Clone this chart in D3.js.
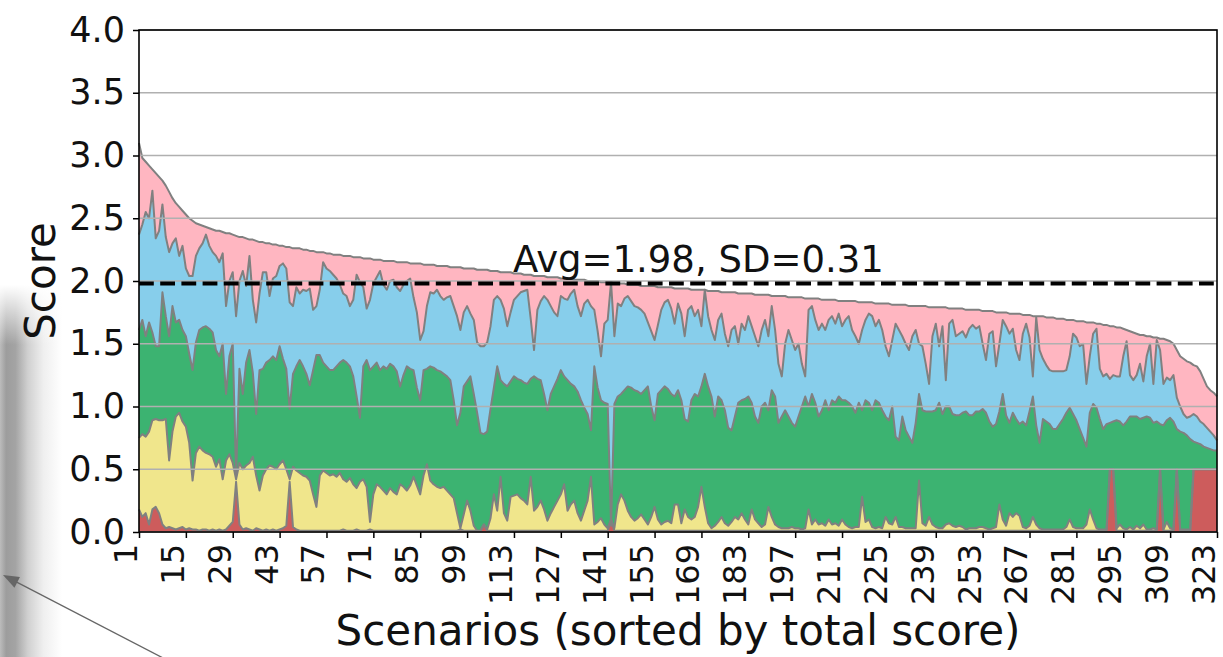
<!DOCTYPE html>
<html>
<head>
<meta charset="utf-8">
<script src="https://cdn.jsdelivr.net/npm/d3@7"></script>
<style>
  body { margin: 0; background: #fff; }
  svg { display: block; font-family: "DejaVu Sans", sans-serif; }
</style>
</head>
<body>
<div id="d3-container"></div>
<script>
/* DATA (top edge of each stacked band, per scenario) */
const xTickLabels = [1, 15, 29, 43, 57, 71, 85, 99, 113, 127, 141, 155, 169, 183, 197, 211, 225, 239, 253, 267, 281, 295, 309, 323];
const yTickLabels = [0, 0.5, 1, 1.5, 2, 2.5, 3, 3.5, 4];
const avgScore = 1.98, sdScore = 0.31;

const totalScore = [
  3.10,2.98,2.95,2.92,2.89,2.86,2.83,2.80,2.76,2.71, 2.66,2.62,2.59,2.56,2.53,2.50,2.48,2.46,2.45,2.44,
  2.43,2.42,2.41,2.40,2.40,2.39,2.38,2.38,2.37,2.36, 2.35,2.35,2.34,2.33,2.33,2.32,2.31,2.31,2.30,2.30,
  2.29,2.29,2.28,2.28,2.27,2.27,2.26,2.26,2.26,2.25, 2.25,2.24,2.24,2.23,2.23,2.23,2.22,2.22,2.21,2.21,
  2.21,2.20,2.20,2.20,2.19,2.19,2.19,2.18,2.18,2.18, 2.17,2.17,2.17,2.16,2.16,2.16,2.16,2.15,2.15,2.15,
  2.15,2.14,2.14,2.14,2.14,2.13,2.13,2.13,2.13,2.12, 2.12,2.12,2.12,2.11,2.11,2.11,2.11,2.10,2.10,2.10,
  2.10,2.09,2.09,2.09,2.09,2.08,2.08,2.08,2.07,2.07, 2.07,2.07,2.06,2.06,2.06,2.05,2.05,2.05,2.04,2.04,
  2.04,2.04,2.03,2.03,2.03,2.03,2.02,2.02,2.02,2.02, 2.01,2.01,2.01,2.01,2.00,2.00,2.00,2.00,1.99,1.99,
  1.99,1.99,1.98,1.98,1.98,1.98,1.97,1.97,1.97,1.97, 1.96,1.96,1.96,1.96,1.96,1.95,1.95,1.95,1.95,1.95,
  1.94,1.94,1.94,1.94,1.94,1.93,1.93,1.93,1.93,1.93, 1.92,1.92,1.92,1.92,1.91,1.91,1.91,1.91,1.91,1.90,
  1.90,1.90,1.90,1.90,1.89,1.89,1.89,1.89,1.89,1.88, 1.88,1.88,1.88,1.88,1.87,1.87,1.87,1.87,1.87,1.86,
  1.86,1.86,1.86,1.86,1.85,1.85,1.85,1.85,1.85,1.84, 1.84,1.84,1.84,1.84,1.84,1.83,1.83,1.83,1.83,1.83,
  1.82,1.82,1.82,1.82,1.82,1.81,1.81,1.81,1.81,1.81, 1.80,1.80,1.80,1.80,1.80,1.80,1.79,1.79,1.79,1.79,
  1.79,1.79,1.78,1.78,1.78,1.78,1.78,1.77,1.77,1.77, 1.77,1.77,1.76,1.76,1.76,1.76,1.75,1.75,1.75,1.75,
  1.74,1.74,1.74,1.74,1.73,1.73,1.73,1.72,1.72,1.72, 1.72,1.71,1.71,1.71,1.70,1.70,1.70,1.69,1.69,1.69,
  1.68,1.68,1.68,1.67,1.67,1.67,1.66,1.66,1.65,1.65, 1.64,1.64,1.63,1.63,1.62,1.61,1.60,1.59,1.58,1.57,
  1.57,1.56,1.56,1.55,1.55,1.54,1.54,1.53,1.52,1.50, 1.45,1.40,1.38,1.36,1.35,1.33,1.32,1.28,1.22,1.16,
  1.13,1.11,1.08
];

const blueTop = [
  2.37,2.45,2.55,2.50,2.72,2.34,2.40,2.61,2.35,2.23, 2.30,2.34,2.20,2.28,2.10,2.04,2.04,2.20,2.26,2.30,
  2.37,2.28,2.23,2.20,2.15,2.22,1.80,2.00,2.07,1.72, 2.00,2.08,1.96,2.20,1.85,1.67,1.90,2.07,2.07,1.88,
  2.02,2.04,2.12,2.14,2.10,1.83,1.80,1.95,1.90,1.93, 1.92,1.94,1.77,1.80,1.93,2.15,2.10,2.08,2.05,2.02,
  1.97,1.90,1.88,1.80,1.85,2.05,1.99,1.95,1.78,1.85, 1.98,2.03,2.08,1.97,1.93,2.00,2.01,1.95,1.92,1.97,
  2.00,2.02,1.87,1.75,1.53,1.60,1.80,1.91,1.90,1.93, 1.88,1.85,1.87,1.88,1.80,1.72,1.61,1.75,1.80,1.74,
  1.69,1.51,1.48,1.48,1.51,1.64,1.85,1.88,1.85,1.78, 1.64,1.75,1.85,1.88,1.91,1.92,1.93,1.70,1.45,1.77,
  1.84,1.88,1.85,1.80,1.75,1.72,1.88,1.86,1.85,1.90, 1.93,1.80,1.72,1.82,1.85,1.80,1.77,1.60,1.40,1.66,
  1.69,1.99,1.56,1.82,1.80,1.86,1.88,1.84,1.80,1.79, 1.77,1.74,1.67,1.60,1.53,1.65,1.77,1.83,1.85,1.78,
  1.66,1.82,1.74,1.56,1.77,1.80,1.72,1.77,1.64,1.93, 1.72,1.61,1.53,1.69,1.74,1.58,1.48,1.61,1.64,1.50,
  1.66,1.61,1.72,1.64,1.56,1.48,1.61,1.69,1.56,1.80, 1.61,1.34,1.24,1.50,1.61,1.53,1.45,1.50,1.34,1.24,
  1.77,1.80,1.69,1.61,1.66,1.61,1.69,1.72,1.66,1.74, 1.64,1.69,1.72,1.61,1.56,1.50,1.61,1.69,1.74,1.72,
  1.64,1.69,1.61,1.48,1.40,1.53,1.66,1.61,1.56,1.50, 1.45,1.56,1.61,1.50,1.48,1.34,1.18,1.56,1.66,1.48,
  1.64,1.21,1.66,1.69,1.56,1.58,1.60,1.55,1.62,1.65, 1.62,1.64,1.50,1.37,1.58,1.60,1.32,1.50,1.69,1.64,
  1.58,1.62,1.45,1.37,1.58,1.66,1.55,1.24,1.71,1.45, 1.38,1.33,1.29,1.28,1.28,1.28,1.28,1.29,1.40,1.58,
  1.55,1.48,1.50,1.18,1.40,1.58,1.62,1.30,1.24,1.26, 1.22,1.25,1.24,1.24,1.40,1.52,1.25,1.21,1.25,1.34,
  1.20,1.40,1.50,1.18,1.53,1.45,1.18,1.23,1.21,1.25, 1.07,1.00,0.94,0.91,0.92,0.94,0.92,0.88,0.86,0.83,
  0.80,0.77,0.73
];

const greenTop = [
  1.61,1.69,1.56,1.67,1.59,1.48,1.48,1.91,1.72,1.56, 1.80,1.67,1.69,1.61,1.56,1.42,1.29,1.51,1.61,1.63,
  1.64,1.62,1.59,1.45,1.40,1.50,1.10,1.40,1.50,0.45, 1.30,1.10,1.35,1.45,1.27,0.94,1.29,1.30,1.35,1.37,
  1.40,1.37,1.48,1.38,1.30,0.98,1.26,1.32,1.37,1.32, 1.26,1.17,1.29,1.41,1.41,1.35,1.32,1.29,1.29,1.32,
  1.35,1.37,1.35,1.32,1.24,1.08,0.91,1.32,1.37,1.29, 1.32,1.35,1.29,1.32,1.30,1.34,1.32,1.28,1.16,1.25,
  1.32,1.30,1.29,1.15,1.05,1.29,1.30,1.32,1.31,1.29, 1.28,1.26,1.24,1.21,1.05,0.85,0.95,1.16,1.20,1.24,
  1.10,0.95,0.79,0.78,0.80,0.98,1.15,1.32,1.21,1.18, 1.16,1.20,1.24,1.22,1.21,1.19,1.18,1.22,1.24,1.22,
  1.21,1.10,0.97,1.10,1.16,1.22,1.29,1.24,1.21,1.18, 1.16,1.12,1.05,0.99,0.94,0.81,1.32,1.15,1.05,1.03,
  1.02,0.05,1.02,1.08,1.10,1.13,1.16,1.15,1.13,1.12, 1.10,1.13,1.16,1.00,0.89,1.10,1.13,1.16,1.14,1.10,
  1.08,1.13,1.05,0.90,0.88,1.05,1.10,1.08,1.16,1.26, 1.16,1.08,0.92,1.08,1.05,0.97,0.83,0.81,0.92,1.03,
  1.05,1.06,1.08,1.03,0.92,0.87,1.00,1.03,0.97,1.13, 1.08,0.87,0.92,0.97,0.92,0.87,0.84,0.92,1.00,1.08,
  1.00,1.10,1.03,0.92,0.97,1.05,0.97,1.05,1.03,1.08, 1.05,1.05,1.03,1.00,0.95,1.03,0.97,1.05,1.03,0.97,
  1.05,1.03,0.97,0.92,0.89,1.00,0.76,0.73,0.92,0.81, 0.76,0.71,0.87,1.10,0.97,0.96,0.96,0.96,0.97,1.03,
  0.94,1.00,1.00,0.94,0.93,0.93,0.95,0.96,0.93,0.93, 0.96,0.96,0.98,0.95,0.88,0.84,0.86,0.96,1.10,0.93,
  0.87,0.95,0.90,0.86,0.88,0.85,0.96,1.08,0.85,0.71, 0.90,0.88,0.86,0.82,0.82,0.86,0.90,0.95,0.99,0.94,
  0.89,0.82,0.75,0.68,0.95,1.02,0.99,0.90,0.82,0.86, 0.87,0.88,0.89,0.88,0.85,0.88,0.92,0.92,0.92,0.90,
  0.91,0.92,0.91,0.87,0.88,0.86,0.85,0.89,0.91,0.88, 0.82,0.80,0.79,0.77,0.74,0.72,0.71,0.70,0.68,0.67,
  0.66,0.65,0.65
];

const yellowTop = [
  0.75,0.78,0.76,0.80,0.89,0.90,0.89,0.89,0.90,0.57, 0.80,0.92,0.95,0.88,0.84,0.71,0.41,0.63,0.68,0.65,
  0.63,0.62,0.60,0.52,0.58,0.42,0.57,0.62,0.55,0.42, 0.55,0.50,0.53,0.55,0.60,0.45,0.33,0.45,0.50,0.53,
  0.52,0.50,0.54,0.57,0.50,0.42,0.52,0.49,0.47,0.45, 0.44,0.41,0.30,0.20,0.45,0.49,0.47,0.45,0.46,0.44,
  0.47,0.42,0.40,0.43,0.38,0.35,0.40,0.42,0.36,0.08, 0.30,0.38,0.36,0.33,0.30,0.35,0.32,0.30,0.38,0.36,
  0.33,0.37,0.44,0.37,0.30,0.45,0.54,0.41,0.38,0.36, 0.35,0.36,0.33,0.30,0.27,0.15,0.03,0.14,0.25,0.17,
  0.05,0.01,0.01,0.06,0.02,0.11,0.30,0.17,0.44,0.15, 0.09,0.28,0.29,0.30,0.27,0.25,0.22,0.44,0.17,0.20,
  0.25,0.18,0.09,0.15,0.20,0.25,0.30,0.38,0.17,0.22, 0.25,0.15,0.09,0.17,0.25,0.44,0.06,0.08,0.11,0.06,
  0.03,0.10,0.03,0.22,0.30,0.25,0.17,0.12,0.09,0.11, 0.14,0.10,0.06,0.12,0.20,0.10,0.06,0.08,0.09,0.07,
  0.22,0.22,0.07,0.18,0.12,0.10,0.12,0.20,0.36,0.20, 0.07,0.03,0.05,0.08,0.12,0.07,0.05,0.08,0.12,0.10,
  0.15,0.10,0.06,0.18,0.10,0.07,0.04,0.06,0.20,0.12, 0.06,0.04,0.03,0.03,0.03,0.04,0.03,0.03,0.02,0.03,
  0.18,0.06,0.10,0.06,0.07,0.05,0.10,0.06,0.07,0.05, 0.10,0.06,0.04,0.03,0.04,0.04,0.28,0.08,0.10,0.04,
  0.03,0.04,0.03,0.12,0.07,0.06,0.12,0.04,0.04,0.03, 0.03,0.03,0.03,0.41,0.07,0.05,0.12,0.06,0.04,0.03,
  0.03,0.06,0.07,0.05,0.04,0.05,0.04,0.02,0.03,0.03, 0.03,0.04,0.04,0.03,0.02,0.03,0.04,0.22,0.10,0.05,
  0.15,0.12,0.15,0.13,0.04,0.03,0.05,0.12,0.06,0.03, 0.02,0.02,0.02,0.02,0.02,0.02,0.02,0.04,0.10,0.04,
  0.03,0.03,0.03,0.06,0.18,0.10,0.03,0.02,0.02,0.02, 0.50,0.50,0.03,0.06,0.03,0.02,0.04,0.02,0.05,0.03,
  0.06,0.02,0.02,0.03,0.02,0.50,0.02,0.08,0.03,0.02, 0.50,0.02,0.02,0.02,0.02,0.50,0.50,0.50,0.50,0.50,
  0.50,0.50,0.50
];

const redTop = [
  0.18,0.12,0.15,0.06,0.18,0.20,0.15,0.06,0.03,0.04, 0.03,0.02,0.03,0.04,0.02,0.03,0.02,0.02,0.01,0.02,
  0.02,0.01,0.02,0.01,0.02,0.01,0.02,0.05,0.08,0.40, 0.06,0.02,0.03,0.02,0.01,0.03,0.02,0.01,0.02,0.01,
  0.02,0.01,0.02,0.03,0.05,0.40,0.04,0.02,0.01,0.01, 0.01,0.01,0.01,0.01,0.01,0.01,0.01,0.01,0.01,0.01,
  0.01,0.02,0.01,0.01,0.01,0.02,0.01,0.01,0.01,0.02, 0.01,0.01,0.01,0.01,0.01,0.01,0.01,0.01,0.01,0.01,
  0.01,0.01,0.01,0.01,0.01,0.01,0.01,0.01,0.01,0.01, 0.01,0.01,0.01,0.01,0.01,0.01,0.02,0.01,0.01,0.01,
  0.01,0.01,0.01,0.06,0.01,0.01,0.01,0.01,0.01,0.01, 0.01,0.01,0.01,0.01,0.01,0.01,0.01,0.01,0.01,0.01,
  0.01,0.01,0.01,0.01,0.01,0.01,0.01,0.01,0.01,0.01, 0.01,0.01,0.01,0.01,0.01,0.01,0.01,0.01,0.01,0.01,
  0.01,0.10,0.01,0.01,0.01,0.01,0.01,0.01,0.01,0.01, 0.01,0.01,0.01,0.01,0.01,0.01,0.01,0.01,0.01,0.01,
  0.01,0.01,0.01,0.01,0.01,0.01,0.01,0.01,0.01,0.01, 0.01,0.01,0.01,0.01,0.01,0.01,0.01,0.01,0.01,0.01,
  0.01,0.01,0.01,0.01,0.01,0.01,0.01,0.01,0.01,0.01, 0.01,0.01,0.01,0.01,0.01,0.01,0.01,0.01,0.01,0.01,
  0.01,0.01,0.01,0.01,0.01,0.01,0.01,0.01,0.01,0.01, 0.01,0.01,0.01,0.01,0.01,0.01,0.01,0.01,0.01,0.01,
  0.01,0.01,0.01,0.01,0.01,0.01,0.01,0.01,0.01,0.01, 0.01,0.01,0.01,0.01,0.01,0.01,0.01,0.01,0.01,0.01,
  0.01,0.01,0.01,0.01,0.01,0.01,0.01,0.01,0.01,0.01, 0.01,0.01,0.01,0.01,0.01,0.01,0.01,0.01,0.01,0.01,
  0.01,0.01,0.01,0.01,0.01,0.01,0.01,0.01,0.01,0.01, 0.01,0.01,0.01,0.01,0.01,0.01,0.01,0.01,0.01,0.01,
  0.01,0.01,0.01,0.01,0.01,0.01,0.01,0.01,0.01,0.01, 0.50,0.50,0.01,0.01,0.01,0.01,0.01,0.01,0.01,0.01,
  0.01,0.01,0.01,0.01,0.01,0.50,0.01,0.01,0.01,0.01, 0.50,0.01,0.01,0.01,0.01,0.50,0.50,0.50,0.50,0.50,
  0.50,0.50,0.50
];

/* CONSTANTS AND GLOBALS */
const width = 1223,
  height = 657,
  margin = { top: 30, right: 6, bottom: 125, left: 139 };

const scenarioIds = totalScore.map((d, i) => i + 1);

// bottom to top, each band sits on the one below it
const bands = [
  { key: "red", fill: "#cd5c5c", lower: null, upper: redTop },
  { key: "yellow", fill: "#f0e68c", lower: redTop, upper: yellowTop },
  { key: "green", fill: "#3cb371", lower: yellowTop, upper: greenTop },
  { key: "blue", fill: "#87ceeb", lower: greenTop, upper: blueTop },
  { key: "pink", fill: "#ffb6c1", lower: blueTop, upper: totalScore }
];

/* SCALES */
const xScale = d3.scaleLinear()
  .domain([1, scenarioIds.length])
  .range([margin.left, width - margin.right]);

const yScale = d3.scaleLinear()
  .domain([0, 4])
  .range([height - margin.bottom, margin.top]);

/* SVG */
const svg = d3.select("#d3-container")
  .append("svg")
  .attr("width", width)
  .attr("height", height);

svg.append("rect")
  .attr("width", width)
  .attr("height", height)
  .attr("fill", "#fff");

// the grey shadow + arrow at the left edge of the screenshot
const defs = svg.append("defs");
const shade = defs.append("linearGradient").attr("id", "shade").attr("x1", 0).attr("x2", 1).attr("y1", 0).attr("y2", 0);
[[0, "#bcbcbc"], [0.1, "#9d9d9d"], [0.25, "#a4a4a4"], [0.45, "#d0d0d0"], [0.7, "#efefef"], [1, "#ffffff"]]
  .forEach(s => shade.append("stop").attr("offset", s[0]).attr("stop-color", s[1]));
const fade = defs.append("linearGradient").attr("id", "fade").attr("x1", 0).attr("x2", 0).attr("y1", 0).attr("y2", 1);
fade.append("stop").attr("offset", 0).attr("stop-color", "#fff").attr("stop-opacity", 1);
fade.append("stop").attr("offset", 1).attr("stop-color", "#fff").attr("stop-opacity", 0);

svg.append("rect").attr("x", 0).attr("y", 285).attr("width", 62).attr("height", height - 285).attr("fill", "url(#shade)");
svg.append("rect").attr("x", 0).attr("y", 285).attr("width", 62).attr("height", 60).attr("fill", "url(#fade)");

const arrowTip = [3, 575], arrowTail = [165, 659];
const ang = Math.atan2(arrowTail[1] - arrowTip[1], arrowTail[0] - arrowTip[0]);
svg.append("line")
  .attr("x1", arrowTail[0]).attr("y1", arrowTail[1])
  .attr("x2", arrowTip[0] + 10 * Math.cos(ang)).attr("y2", arrowTip[1] + 10 * Math.sin(ang))
  .attr("stroke", "#666").attr("stroke-width", 1.3);
const headLen = 16, headHalf = 6;
const bx = arrowTip[0] + headLen * Math.cos(ang), by = arrowTip[1] + headLen * Math.sin(ang);
svg.append("path")
  .attr("d", `M${arrowTip[0]},${arrowTip[1]}L${bx - headHalf * Math.sin(ang)},${by + headHalf * Math.cos(ang)}L${bx + headHalf * Math.sin(ang)},${by - headHalf * Math.cos(ang)}Z`)
  .attr("fill", "#666");

/* STACKED AREAS */
const plot = svg.append("g");

bands.forEach(b => {
  const area = d3.area()
    .x((d, i) => xScale(scenarioIds[i]))
    .y0((d, i) => yScale(b.lower ? b.lower[i] : 0))
    .y1(d => yScale(d));
  plot.append("path")
    .datum(b.upper)
    .attr("class", "band " + b.key)
    .attr("fill", b.fill)
    .attr("d", area);
});

// grey edges on top of every band
bands.forEach(b => {
  const line = d3.line()
    .x((d, i) => xScale(scenarioIds[i]))
    .y(d => yScale(d));
  plot.append("path")
    .datum(b.upper)
    .attr("fill", "none")
    .attr("stroke", "#808080")
    .attr("stroke-width", 2)
    .attr("stroke-linejoin", "round")
    .attr("d", line);
});

/* GRID */
svg.append("g")
  .selectAll("line")
  .data(yTickLabels)
  .join("line")
  .attr("x1", margin.left)
  .attr("x2", width - margin.right)
  .attr("y1", d => yScale(d))
  .attr("y2", d => yScale(d))
  .attr("stroke", "#b0b0b0")
  .attr("stroke-width", 1.6);

// average line
svg.append("line")
  .attr("x1", margin.left)
  .attr("x2", width - margin.right)
  .attr("y1", yScale(avgScore))
  .attr("y2", yScale(avgScore))
  .attr("stroke", "#000")
  .attr("stroke-width", 4)
  .attr("stroke-dasharray", "14.8,6.4");

svg.append("text")
  .attr("x", 513)
  .attr("y", yScale(avgScore) - 12)
  .attr("font-size", 37)
  .attr("fill", "#111")
  .text(`Avg=${avgScore.toFixed(2)}, SD=${sdScore.toFixed(2)}`);

/* AXES */
const yAxis = d3.axisLeft(yScale)
  .tickValues(yTickLabels)
  .tickFormat(d3.format(".1f"))
  .tickSize(6)
  .tickPadding(8);

const yAxisGroup = svg.append("g")
  .attr("transform", `translate(${margin.left},0)`)
  .call(yAxis);

const xAxis = d3.axisBottom(xScale)
  .tickValues(xTickLabels)
  .tickFormat(d3.format("d"))
  .tickSize(6);

const xAxisGroup = svg.append("g")
  .attr("transform", `translate(0,${height - margin.bottom})`)
  .call(xAxis);

[xAxisGroup, yAxisGroup].forEach(g => {
  g.select(".domain").remove();
  g.selectAll("line").attr("stroke", "#000").attr("stroke-width", 1.5);
  g.selectAll("text").attr("font-size", 35).attr("fill", "#111").attr("font-family", "DejaVu Sans");
});

// x tick labels stand upright, reading bottom to top
xAxisGroup.selectAll("text")
  .attr("transform", "rotate(-90)")
  .attr("text-anchor", "end")
  .attr("font-size", 32)
  .attr("x", -12)
  .attr("y", 0)
  .attr("dy", "-0.08em");

// axes box
svg.append("rect")
  .attr("x", margin.left)
  .attr("y", margin.top)
  .attr("width", width - margin.right - margin.left)
  .attr("height", height - margin.bottom - margin.top)
  .attr("fill", "none")
  .attr("stroke", "#000")
  .attr("stroke-width", 1.6);

// axis titles
svg.append("text")
  .attr("x", (margin.left + width - margin.right) / 2)
  .attr("y", 645)
  .attr("text-anchor", "middle")
  .attr("font-size", 42)
  .attr("fill", "#111")
  .text("Scenarios (sorted by total score)");

svg.append("text")
  .attr("transform", `translate(55, ${(margin.top + height - margin.bottom) / 2}) rotate(-90)`)
  .attr("text-anchor", "middle")
  .attr("font-size", 42)
  .attr("fill", "#111")
  .text("Score");
</script>
</body>
</html>
